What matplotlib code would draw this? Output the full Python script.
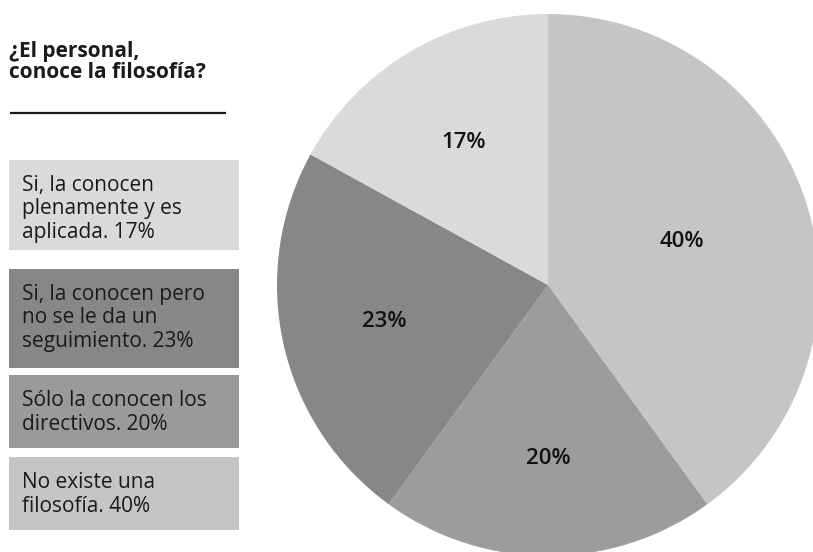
import numpy as np
import matplotlib
matplotlib.use("Agg")
import matplotlib.pyplot as plt
from matplotlib.patches import Rectangle

plt.rcParams['font.family'] = ['Open Sans', 'DejaVu Sans']

# pie data, clockwise from the top
pie_values = [40, 20, 23, 17]
pie_colors = ['#c4c5c4', '#9c9c9c', '#878787', '#d9dad9']

# legend boxes, top to bottom
legend_texts = [
    "Si, la conocen\nplenamente y es\naplicada. 17%",
    "Si, la conocen pero\nno se le da un\nseguimiento. 23%",
    "Sólo la conocen los\ndirectivos. 20%",
    "No existe una\nfilosofía. 40%",
]
legend_colors = ['#d9dad9', '#878787', '#9a9a9a', '#c4c5c4']

title = "¿El personal,\nconoce la filosofía?"

W, H = 813, 552
fig = plt.figure(figsize=(W / 100, H / 100), dpi=100)

# overlay in pixel coordinates for the left panel
ov = fig.add_axes([0, 0, 1, 1])
ov.set_xlim(0, W)
ov.set_ylim(H, 0)
ov.axis('off')

ov.text(9, 78, title, fontsize=15, fontweight='bold', color='#1a1a1a',
        va='baseline', ha='left', linespacing=1.0)
ov.plot([10, 226], [113, 113], color='#1a1a1a', lw=1.6, solid_capstyle='butt')

box_tops = [160, 269, 375, 457]
box_bottoms = [250, 368, 448, 530]
line_h = 23.5
for txt, col, top, bot in zip(legend_texts, legend_colors, box_tops, box_bottoms):
    ov.add_patch(Rectangle((9, top), 230, bot - top, facecolor=col, edgecolor='none'))
    n = txt.count('\n')
    ov.text(22, top + 31 + n * line_h, txt, fontsize=15, color='#1a1a1a',
            va='baseline', ha='left', linespacing=1.16)

# pie
cx, cy, r = 548, 285, 271
pax = fig.add_axes([(cx - r) / W, (H - cy - r) / H, 2 * r / W, 2 * r / H])
wedges, _ = pax.pie(pie_values, colors=pie_colors, startangle=90, counterclock=False,
                    radius=1.0, wedgeprops=dict(linewidth=0))
pax.set_xlim(-1, 1)
pax.set_ylim(-1, 1)
pax.set_aspect('equal')
pax.axis('off')
for w in wedges:
    w.set_clip_on(False)

label_dist = [0.52, 0.64, 0.62, 0.61]
for w, v, d in zip(wedges, pie_values, label_dist):
    ang = np.deg2rad((w.theta1 + w.theta2) / 2)
    pax.text(d * np.cos(ang), d * np.sin(ang), f"{v}%", ha='center', va='center',
             fontsize=16, fontweight='semibold', color='#111111')

fig.savefig('out.png', dpi=100)
